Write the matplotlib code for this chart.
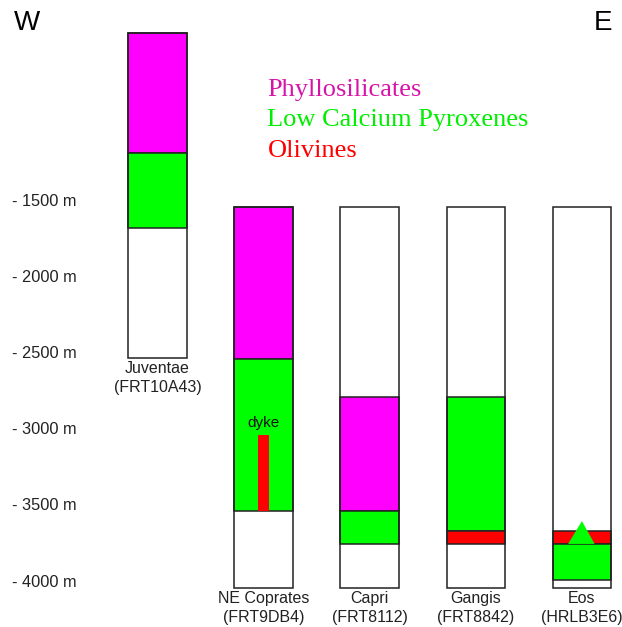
import matplotlib
matplotlib.use("Agg")
import matplotlib.pyplot as plt
import matplotlib.transforms as mtransforms
from matplotlib.patches import Rectangle, Polygon

# Datos: columnas estratigraficas (elevacion en m)
sitios = ["Juventae\n(FRT10A43)", "NE Coprates\n(FRT9DB4)", "Capri\n(FRT8112)",
          "Gangis\n(FRT8842)", "Eos\n(HRLB3E6)"]
techo = [-400, -1540, -1540, -1540, -1540]
base = [-2530, -4040, -4040, -4040, -4040]

# capas: (indice de columna, techo, base, mineral)
capa_col = [0, 0, 1, 1, 2, 2, 3, 3, 4, 4]
capa_top = [-400, -1185, -1540, -2537, -2786, -3534, -2786, -3665, -3665, -3750]
capa_bot = [-1185, -1677, -2537, -3534, -3534, -3750, -3665, -3750, -3750, -3987]
capa_min = ["phyl", "lcp", "phyl", "lcp", "phyl", "lcp", "lcp", "oliv", "oliv", "lcp"]

# dique en NE Coprates y cono en Eos
dique = (1, -3035, -3534)
cono_col, cono_apex, cono_base = 4, -3600, -3750

ticks = [-1500, -2000, -2500, -3000, -3500, -4000]
leyenda = ["Phyllosilicates", "Low Calcium Pyroxenes", "Olivines"]
colores = {"phyl": "#ff00ff", "lcp": "#00ff00", "oliv": "#ff0000"}
col_leyenda = ["#d615a8", "#00ee00", "#ff0000"]

plt.rcParams["font.family"] = ["Liberation Sans", "DejaVu Sans"]

fig = plt.figure(figsize=(6.22, 6.27), dpi=100)
ax = fig.add_axes([0, 0, 1, 1])
ax.set_xlim(-1.484, 4.378)
ax.set_ylim(-4295, -181)
ax.axis("off")

ancho = 0.55
borde = "#222222"

for i in range(len(sitios)):
    ax.add_patch(Rectangle((i - ancho / 2, base[i]), ancho, techo[i] - base[i],
                           facecolor="white", edgecolor="none", zorder=1))

for c, t, b, m in zip(capa_col, capa_top, capa_bot, capa_min):
    ax.add_patch(Rectangle((c - ancho / 2, b), ancho, t - b,
                           facecolor=colores[m], edgecolor=borde, lw=1.1, zorder=2))

c, t, b = dique
ax.add_patch(Rectangle((c - 0.05, b), 0.1, t - b, facecolor="#ff0000",
                       edgecolor="none", zorder=3))
ax.text(c, t + 30, "dyke", ha="center", va="bottom", fontsize=11, color="#111111", zorder=4)

ax.add_patch(Polygon([[cono_col - 0.13, cono_base], [cono_col + 0.12, cono_base],
                      [cono_col, cono_apex]], closed=True, facecolor="#00ff00",
                     edgecolor="none", zorder=3))

for i in range(len(sitios)):
    ax.add_patch(Rectangle((i - ancho / 2, base[i]), ancho, techo[i] - base[i],
                           facecolor="none", edgecolor=borde, lw=1.1, zorder=5))
    ax.text(i, base[i] - 20, sitios[i], ha="center", va="top", fontsize=11.5,
            color="#222222", linespacing=1.3)

trans = mtransforms.blended_transform_factory(ax.transAxes, ax.transData)
for tk in ticks:
    ax.text(0.019, tk, f"- {abs(tk)} m", transform=trans, ha="left", va="center",
            fontsize=11.8, color="#222222")

ax.text(0.023, 0.964, "W", transform=ax.transAxes, fontsize=20, ha="left", va="center")
ax.text(0.985, 0.964, "E", transform=ax.transAxes, fontsize=20, ha="right", va="center")

for k, (txt, col) in enumerate(zip(leyenda, col_leyenda)):
    ax.text(0.43, 0.857 - k * 0.049, txt, transform=ax.transAxes, fontsize=19,
            color=col, family="Liberation Serif", ha="left", va="center")

fig.savefig("out.png", dpi=100)
